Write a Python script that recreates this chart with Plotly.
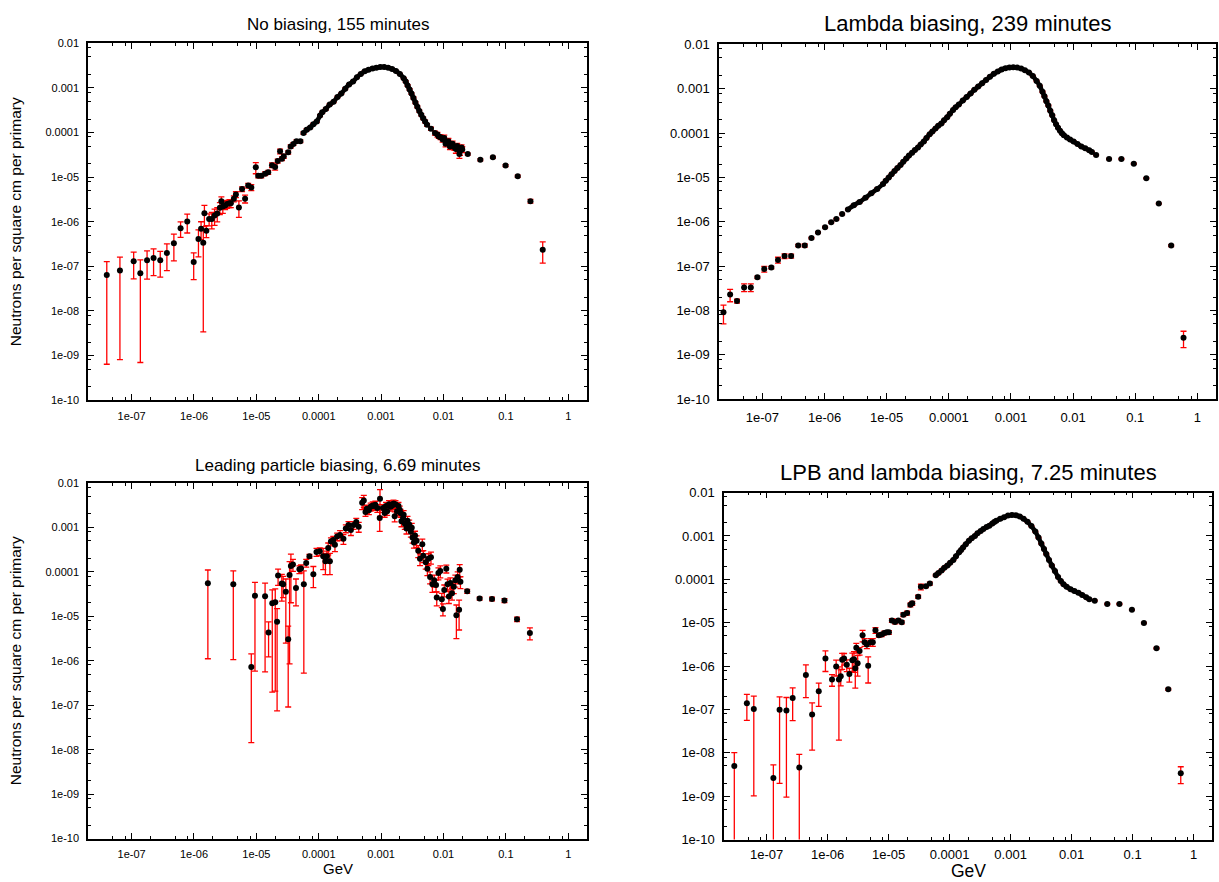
import plotly.graph_objects as go

W, H = 1219, 882

# ---------------- Panel 1: No biasing ----------------
p1_x = [4.0e-8, 6.5e-8, 1.08e-7, 1.38e-7, 1.77e-7, 2.25e-7, 2.88e-7, 3.68e-7, 4.76e-7, 6.1e-7,
        7.8e-7, 9.9e-7, 1.18e-6, 1.30e-6, 1.41e-6, 1.47e-6, 1.58e-6, 1.75e-6, 1.93e-6, 2.14e-6,
        2.36e-6, 2.6e-6, 2.75e-6, 2.9e-6, 3.16e-6, 3.4e-6, 3.7e-6, 3.9e-6, 4.36e-6, 4.7e-6,
        5.25e-6, 5.9e-6, 6.6e-6, 7.4e-6, 8.3e-6, 9.8e-6, 1.07e-5, 1.2e-5, 1.38e-5, 1.55e-5,
        1.78e-5, 2.0e-5, 2.2e-5, 2.4e-5, 2.57e-5, 2.75e-5, 3.24e-5, 3.55e-5, 3.93e-5, 4.4e-5,
        5.08e-5, 5.7e-5, 6.4e-5, 7.3e-5, 8.2e-5, 9.3e-5, 1.05e-4, 1.14e-4, 1.3e-4, 1.5e-4,
        1.73e-4, 2.0e-4, 2.3e-4, 2.66e-4, 3.07e-4, 3.55e-4, 4.1e-4, 4.73e-4, 5.46e-4, 6.3e-4,
        7.3e-4, 8.4e-4, 9.7e-4, 1.12e-3, 1.3e-3, 1.5e-3, 1.73e-3, 2.0e-3, 2.3e-3, 2.48e-3,
        2.66e-3, 2.86e-3, 3.07e-3, 3.3e-3, 3.55e-3, 3.81e-3, 4.1e-3, 4.4e-3, 4.73e-3, 5.08e-3,
        5.46e-3, 6.3e-3, 7.3e-3, 8.0e-3, 8.4e-3, 9.0e-3, 9.7e-3, 1.03e-2, 1.08e-2, 1.12e-2,
        1.2e-2, 1.27e-2, 1.3e-2, 1.4e-2, 1.5e-2, 1.58e-2, 1.66e-2, 1.73e-2, 1.8e-2, 1.84e-2,
        1.95e-2, 2.0e-2, 2.45e-2, 3.9e-2, 6.2e-2, 9.9e-2, 1.55e-1, 2.48e-1, 3.9e-1]
p1_y = [6.4e-8, 8.1e-8, 1.31e-7, 7.0e-8, 1.37e-7, 1.55e-7, 1.37e-7, 2.0e-7, 3.32e-7, 7.2e-7,
        1.02e-6, 1.26e-7, 4.1e-7, 7.0e-7, 3.4e-7, 1.55e-6, 6.3e-7, 1.16e-6, 1.16e-6, 1.38e-6,
        1.53e-6, 2.07e-6, 2.9e-6, 2.2e-6, 2.33e-6, 2.5e-6, 2.6e-6, 2.6e-6, 3.3e-6, 4.1e-6,
        2.1e-6, 5.4e-6, 3.3e-6, 6.5e-6, 5.9e-6, 1.66e-5, 1.07e-5, 1.07e-5, 1.2e-5, 1.29e-5,
        1.86e-5, 1.7e-5, 2.3e-5, 3.8e-5, 2.6e-5, 2.95e-5, 3.6e-5, 4.9e-5, 5.57e-5, 6.38e-5,
        6.38e-5, 9.75e-5, 1.16e-4, 1.3e-4, 1.54e-4, 1.77e-4, 2.4e-4, 2.84e-4, 3.36e-4, 4.27e-4,
        4.89e-4, 6.3e-4, 7.47e-4, 9.6e-4, 1.2e-3, 1.4e-3, 1.74e-3, 2.06e-3, 2.36e-3, 2.57e-3,
        2.75e-3, 2.85e-3, 2.95e-3, 2.95e-3, 2.85e-3, 2.66e-3, 2.4e-3, 2.06e-3, 1.66e-3, 1.4e-3,
        1.14e-3, 9.3e-4, 7.47e-4, 5.98e-4, 4.72e-4, 3.79e-4, 3.04e-4, 2.52e-4, 2.09e-4, 1.77e-4,
        1.49e-4, 1.22e-4, 9.75e-5, 9.0e-5, 8.2e-5, 7.9e-5, 6.95e-5, 7.6e-5, 5.6e-5, 6.17e-5,
        6.4e-5, 4.9e-5, 5.38e-5, 5.6e-5, 4.7e-5, 4.3e-5, 5.0e-5, 4.4e-5, 3.3e-5, 3.84e-5,
        4.6e-5, 4.18e-5, 3.3e-5, 2.45e-5, 2.78e-5, 1.82e-5, 1.05e-5, 2.9e-6, 2.37e-7]
p1_rel = [0.99, 0.99, 0.6, 0.99, 0.62, 0.6, 0.58, 0.6, 0.6, 0.38,
          0.45, 0.6, 0.6, 0.43, 0.99, 0.5, 0.3, 0.3, 0.4, 0.4,
          0.35, 0.3, 0.25, 0.3, 0.2, 0.2, 0.2, 0.2, 0.15, 0.15,
          0.4, 0.12, 0.2, 0.12, 0.15, 0.28, 0.1, 0.1, 0.1, 0.1,
          0.12, 0.15, 0.1, 0.12, 0.1, 0.1, 0.08, 0.08, 0.07, 0.07,
          0.07, 0.06, 0.06, 0.05, 0.05, 0.05, 0.05, 0.05, 0.05, 0.04,
          0.04, 0.04, 0.04, 0.04, 0.03, 0.03, 0.03, 0.03, 0.03, 0.03,
          0.03, 0.03, 0.03, 0.03, 0.03, 0.03, 0.03, 0.03, 0.03, 0.04,
          0.04, 0.04, 0.04, 0.05, 0.05, 0.05, 0.05, 0.06, 0.06, 0.07,
          0.07, 0.08, 0.1, 0.12, 0.1, 0.12, 0.12, 0.15, 0.15, 0.12,
          0.15, 0.15, 0.15, 0.15, 0.15, 0.2, 0.15, 0.15, 0.2, 0.2,
          0.15, 0.15, 0.05, 0.05, 0.05, 0.05, 0.06, 0.1, 0.5]

# ---------------- Panel 2: Lambda biasing ----------------
p2_low_x = [2.36e-8, 3.02e-8, 3.9e-8, 5.07e-8, 6.5e-8, 8.3e-8, 1.07e-7, 1.39e-7, 1.78e-7, 2.27e-7,
            2.9e-7, 3.77e-7, 4.8e-7, 6.15e-7, 7.85e-7]
p2_low_y = [9.1e-9, 2.28e-8, 1.63e-8, 3.32e-8, 3.32e-8, 5.6e-8, 8.6e-8, 9.3e-8, 1.38e-7, 1.69e-7,
            1.69e-7, 2.92e-7, 2.92e-7, 4.3e-7, 5.75e-7]
p2_low_rel = [0.45, 0.31, 0.1, 0.2, 0.2, 0.06, 0.15, 0.06, 0.15, 0.12,
              0.1, 0.06, 0.08, 0.04, 0.04]
p2_core_x = [1.02e-6, 1.28e-6, 1.55e-6, 1.92e-6, 2.38e-6, 2.96e-6, 3.67e-6, 4.56e-6, 5.66e-6, 7.03e-6,
             8.72e-6, 9.66e-6, 1.08e-5, 1.2e-5, 1.34e-5, 1.49e-5, 1.67e-5, 1.85e-5, 2.07e-5, 2.29e-5,
             2.57e-5, 2.85e-5, 3.19e-5, 3.53e-5, 3.96e-5, 4.38e-5, 4.92e-5, 5.45e-5, 6.11e-5, 6.76e-5,
             7.59e-5, 8.39e-5, 9.42e-5, 1.04e-4, 1.17e-4, 1.29e-4, 1.45e-4, 1.68e-4, 1.94e-4, 2.24e-4,
             2.58e-4, 2.98e-4, 3.44e-4, 3.98e-4, 4.59e-4, 5.31e-4, 6.14e-4, 7.08e-4, 8.18e-4, 9.46e-4,
             1.09e-3, 1.26e-3, 1.46e-3, 1.68e-3, 1.95e-3, 2.25e-3, 2.59e-3, 2.91e-3, 3.22e-3, 3.46e-3,
             3.72e-3, 4.0e-3, 4.3e-3, 4.62e-3, 4.96e-3, 5.33e-3, 5.73e-3, 6.16e-3, 6.62e-3, 7.12e-3,
             7.98e-3, 8.96e-3, 1.02e-2, 1.18e-2, 1.36e-2, 1.57e-2, 1.82e-2, 2.01e-2]
p2_core_y = [7.55e-7, 9.73e-7, 1.15e-6, 1.49e-6, 1.89e-6, 2.36e-6, 2.79e-6, 3.47e-6, 4.41e-6, 5.5e-6,
             7.1e-6, 8.41e-6, 9.97e-6, 1.18e-5, 1.4e-5, 1.63e-5, 1.9e-5, 2.25e-5, 2.67e-5, 3.11e-5,
             3.62e-5, 4.15e-5, 4.75e-5, 5.54e-5, 6.46e-5, 7.78e-5, 9.38e-5, 1.09e-4, 1.27e-4, 1.46e-4,
             1.64e-4, 1.95e-4, 2.27e-4, 2.73e-4, 3.29e-4, 3.84e-4, 4.4e-4, 5.39e-4, 6.5e-4, 7.83e-4,
             9.44e-4, 1.12e-3, 1.33e-3, 1.57e-3, 1.86e-3, 2.17e-3, 2.44e-3, 2.7e-3, 2.9e-3, 2.99e-3,
             3.05e-3, 2.99e-3, 2.84e-3, 2.61e-3, 2.32e-3, 1.93e-3, 1.49e-3, 1.16e-3, 8.53e-4, 6.72e-4,
             5.21e-4, 4.18e-4, 3.18e-4, 2.51e-4, 1.95e-4, 1.59e-4, 1.32e-4, 1.13e-4, 9.86e-5, 8.91e-5,
             7.91e-5, 7.14e-5, 6.46e-5, 5.64e-5, 5.0e-5, 4.52e-5, 4.08e-5, 3.75e-5]
p2_core_rel = [0.04, 0.04, 0.04, 0.04, 0.04, 0.04, 0.04, 0.04, 0.04, 0.04,
               0.04, 0.03, 0.03, 0.03, 0.03, 0.03, 0.03, 0.03, 0.03, 0.03,
               0.03, 0.03, 0.03, 0.03, 0.03, 0.03, 0.03, 0.03, 0.03, 0.03,
               0.03, 0.03, 0.03, 0.03, 0.03, 0.03, 0.03, 0.03, 0.03, 0.03,
               0.03, 0.03, 0.03, 0.03, 0.03, 0.03, 0.03, 0.03, 0.03, 0.03,
               0.03, 0.03, 0.03, 0.03, 0.03, 0.03, 0.03, 0.03, 0.03, 0.03,
               0.03, 0.03, 0.03, 0.03, 0.03, 0.03, 0.03, 0.03, 0.03, 0.03,
               0.03, 0.03, 0.03, 0.03, 0.03, 0.03, 0.03, 0.03]
p2_tail_x = [2.35e-2, 3.8e-2, 6.0e-2, 9.5e-2, 1.51e-1, 2.4e-1, 3.8e-1, 6.0e-1]
p2_tail_y = [3.2e-5, 2.6e-5, 2.6e-5, 2.03e-5, 9.6e-6, 2.57e-6, 2.92e-7, 2.43e-9]
p2_tail_rel = [0.03, 0.03, 0.03, 0.03, 0.03, 0.03, 0.05, 0.4]

# ---------------- Panel 3: Leading particle biasing ----------------
p3_x = [1.67e-6, 4.27e-6, 8.3e-6, 9.5e-6, 1.38e-5, 1.57e-5, 1.8e-5, 2.01e-5, 2.15e-5, 2.23e-5,
        2.56e-5, 2.69e-5, 2.97e-5, 3.24e-5, 3.41e-5, 3.58e-5, 3.86e-5, 4.32e-5, 4.9e-5, 5.2e-5,
        5.77e-5, 6.3e-5, 7.1e-5, 8.2e-5, 9.2e-5, 1.04e-4, 1.18e-4, 1.28e-4, 1.35e-4, 1.42e-4,
        1.51e-4, 1.57e-4, 1.71e-4, 1.82e-4, 1.97e-4, 2.2e-4, 2.49e-4, 2.72e-4, 3.0e-4, 3.28e-4,
        3.63e-4, 4.0e-4, 4.38e-4, 4.97e-4, 5.28e-4, 5.62e-4, 5.9e-4, 6.37e-4, 6.8e-4, 7.35e-4,
        7.69e-4, 8.1e-4, 8.7e-4, 9.5e-4, 9.6e-4, 1.07e-3, 1.14e-3, 1.2e-3, 1.25e-3, 1.34e-3,
        1.42e-3, 1.51e-3, 1.58e-3, 1.65e-3, 1.7e-3, 1.8e-3, 1.9e-3, 1.99e-3, 2.05e-3, 2.12e-3,
        2.25e-3, 2.3e-3, 2.4e-3, 2.55e-3, 2.65e-3, 2.82e-3, 3.0e-3, 3.1e-3, 3.19e-3, 3.36e-3,
        3.5e-3, 3.71e-3, 3.94e-3, 4.2e-3, 4.58e-3, 4.75e-3, 5.19e-3, 5.52e-3, 5.73e-3, 6.1e-3,
        6.3e-3, 6.65e-3, 7.1e-3, 7.6e-3, 7.8e-3, 8.3e-3, 8.9e-3, 9.4e-3, 9.8e-3, 1.03e-2,
        1.11e-2, 1.16e-2, 1.22e-2, 1.29e-2, 1.37e-2, 1.46e-2, 1.55e-2, 1.61e-2, 1.69e-2, 1.78e-2,
        1.82e-2, 1.87e-2, 2.4e-2, 3.8e-2, 6.0e-2, 9.5e-2, 1.51e-1, 2.43e-1]
p3_y = [5.53e-5, 5.26e-5, 7.2e-7, 2.9e-5, 2.8e-5, 4.33e-6, 1.96e-5, 2.07e-5, 7.46e-6, 8.2e-5,
        5.45e-5, 5.26e-5, 3.56e-5, 3.03e-6, 8.45e-5, 1.34e-4, 1.46e-4, 4.29e-5, 1.13e-4, 1.18e-4,
        5.26e-5, 1.58e-4, 2.23e-4, 8.75e-5, 2.78e-4, 2.87e-4, 2.23e-4, 1.73e-4, 2.23e-4, 3.4e-4,
        1.73e-4, 4.79e-4, 5.2e-4, 4.04e-4, 6.17e-4, 6.7e-4, 5.48e-4, 9.4e-4, 1.12e-3, 8.7e-4,
        1.12e-3, 1.32e-3, 1.03e-3, 3.55e-3, 3.99e-3, 2.2e-3, 2.6e-3, 2.4e-3, 2.9e-3, 3.1e-3,
        2.99e-3, 3.2e-3, 2.7e-3, 1.62e-3, 4.4e-3, 2.7e-3, 2.1e-3, 3.0e-3, 2.3e-3, 3.31e-3,
        2.9e-3, 3.1e-3, 3.4e-3, 1.77e-3, 3.3e-3, 2.28e-3, 3.0e-3, 2.48e-3, 2.1e-3, 1.37e-3,
        1.62e-3, 1.9e-3, 1.2e-3, 9.4e-4, 1.4e-3, 1.16e-3, 7.96e-4, 9.8e-4, 5.86e-4, 4.54e-4,
        6.5e-4, 4.94e-4, 2.97e-4, 1.95e-4, 4.17e-4, 2.3e-4, 1.64e-4, 1.17e-4, 1.95e-4, 7.6e-5,
        2.12e-4, 5.26e-5, 6.46e-5, 5.0e-5, 2.62e-5, 9.4e-5, 1.04e-4, 2.41e-5, 1.45e-5, 3.87e-5,
        1.17e-4, 5.26e-5, 2.76e-5, 5.6e-5, 3.27e-5, 4.6e-5, 6.46e-5, 1.05e-5, 7.6e-5, 1.4e-5,
        1.11e-4, 5.93e-5, 3.62e-5, 2.49e-5, 2.45e-5, 2.25e-5, 8.55e-6, 4.19e-6]
p3_rel = [0.98, 0.98, 0.98, 0.98, 0.98, 0.72, 0.99, 0.99, 0.99, 0.4,
          0.6, 0.5, 0.93, 0.97, 0.99, 0.85, 0.3, 0.6, 0.2, 0.2,
          0.99, 0.2, 0.1, 0.5, 0.2, 0.2, 0.5, 0.5, 0.3, 0.3,
          0.5, 0.2, 0.2, 0.3, 0.2, 0.25, 0.25, 0.2, 0.2, 0.25,
          0.2, 0.2, 0.25, 0.3, 0.3, 0.2, 0.2, 0.2, 0.2, 0.2,
          0.2, 0.2, 0.2, 0.5, 0.6, 0.2, 0.2, 0.2, 0.2, 0.2,
          0.2, 0.2, 0.2, 0.25, 0.2, 0.2, 0.2, 0.2, 0.2, 0.25,
          0.2, 0.25, 0.25, 0.25, 0.25, 0.25, 0.25, 0.25, 0.25, 0.25,
          0.25, 0.3, 0.3, 0.3, 0.3, 0.3, 0.3, 0.3, 0.3, 0.3,
          0.3, 0.35, 0.3, 0.3, 0.35, 0.3, 0.3, 0.35, 0.3, 0.3,
          0.2, 0.3, 0.3, 0.3, 0.3, 0.3, 0.3, 0.7, 0.3, 0.65,
          0.3, 0.3, 0.1, 0.08, 0.1, 0.1, 0.12, 0.3]

# ---------------- Panel 4: LPB and lambda biasing ----------------
p4_low_x = [2.95e-8, 4.74e-8, 6.16e-8, 1.29e-7, 1.63e-7, 2.11e-7, 2.67e-7, 3.43e-7, 4.4e-7, 5.57e-7,
            7.15e-7, 9.2e-7, 1.18e-6, 1.38e-6, 1.53e-6, 1.64e-6, 1.73e-6, 1.86e-6, 2.06e-6, 2.27e-6,
            2.54e-6, 2.7e-6, 2.84e-6, 2.95e-6, 3.1e-6, 3.34e-6, 3.74e-6, 4.03e-6, 4.4e-6, 4.62e-6,
            5.05e-6, 5.5e-6, 6.08e-6, 6.9e-6, 7.7e-6, 8.5e-6, 9.3e-6, 1.01e-5, 1.13e-5, 1.27e-5,
            1.44e-5, 1.64e-5]
p4_low_y = [5.0e-9, 1.4e-7, 1.02e-7, 2.63e-9, 9.86e-8, 9.5e-8, 1.85e-7, 4.6e-9, 6.25e-7, 7.7e-8,
            2.62e-7, 1.5e-6, 4.9e-7, 9.85e-7, 4.9e-7, 5.83e-7, 1.4e-6, 1.5e-6, 1.07e-6, 6.6e-7,
            1.37e-6, 1.44e-6, 8.87e-7, 2.66e-6, 1.17e-6, 2.23e-6, 5.15e-6, 3.57e-6, 3.16e-6, 1.02e-6,
            3.57e-6, 3.57e-6, 6.7e-6, 5.15e-6, 5.33e-6, 5.82e-6, 6.0e-6, 6.0e-6, 1.13e-5, 1.04e-5,
            1.13e-5, 1.02e-5]
p4_low_rel = [1.02, 0.6, 0.99, 1.0, 0.98, 0.99, 0.7, 1.0, 0.7, 0.85,
              0.55, 0.5, 0.3, 0.4, 0.96, 0.4, 0.4, 0.3, 0.3, 0.35,
              0.45, 0.5, 0.65, 0.25, 0.5, 0.2, 0.3, 0.2, 0.2, 0.6,
              0.2, 0.2, 0.15, 0.1, 0.1, 0.1, 0.1, 0.1, 0.1, 0.1,
              0.08, 0.08]
p4_core_x = [1.74e-5, 2.01e-5, 2.27e-5, 2.44e-5, 3.05e-5, 3.38e-5, 4.09e-5, 4.74e-5, 5.92e-5, 6.56e-5,
             7.38e-5, 8.18e-5, 9.2e-5, 1.02e-4, 1.15e-4, 1.27e-4, 1.43e-4, 1.54e-4, 1.66e-4, 1.84e-4,
             2.07e-4, 2.3e-4, 2.59e-4, 2.86e-4, 3.23e-4, 3.57e-4, 4.03e-4, 4.47e-4, 5.02e-4, 5.4e-4,
             5.82e-4, 6.75e-4, 7.81e-4, 9.06e-4, 1.05e-3, 1.22e-3, 1.41e-3, 1.63e-3, 1.89e-3, 2.19e-3,
             2.54e-3, 2.86e-3, 3.18e-3, 3.52e-3, 3.84e-3, 4.26e-3, 4.73e-3, 5.32e-3, 5.99e-3, 6.64e-3,
             7.36e-3, 8.28e-3, 9.6e-3, 1.11e-2, 1.29e-2, 1.49e-2, 1.73e-2, 1.95e-2]
p4_core_y = [1.53e-5, 1.67e-5, 2.58e-5, 2.81e-5, 3.98e-5, 6.71e-5, 6.97e-5, 8.0e-5, 1.24e-4, 1.4e-4,
             1.61e-4, 1.85e-4, 2.09e-4, 2.4e-4, 2.81e-4, 3.4e-4, 4.19e-4, 4.73e-4, 5.44e-4, 6.48e-4,
             7.71e-4, 8.87e-4, 1.0e-3, 1.15e-3, 1.3e-3, 1.44e-3, 1.6e-3, 1.72e-3, 1.95e-3, 2.1e-3,
             2.25e-3, 2.48e-3, 2.7e-3, 2.95e-3, 3.05e-3, 3.0e-3, 2.8e-3, 2.48e-3, 2.12e-3, 1.69e-3,
             1.26e-3, 9.18e-4, 6.71e-4, 4.99e-4, 3.84e-4, 2.81e-4, 2.09e-4, 1.55e-4, 1.13e-4, 9.2e-5,
             7.73e-5, 6.71e-5, 5.94e-5, 5.36e-5, 4.91e-5, 4.35e-5, 3.85e-5, 3.47e-5]
p4_core_rel = [0.1, 0.1, 0.1, 0.1, 0.08, 0.15, 0.08, 0.08, 0.05, 0.05,
               0.05, 0.04, 0.04, 0.04, 0.03, 0.03, 0.03, 0.03, 0.03, 0.03,
               0.03, 0.03, 0.03, 0.03, 0.03, 0.03, 0.03, 0.03, 0.03, 0.03,
               0.03, 0.03, 0.03, 0.03, 0.03, 0.03, 0.03, 0.03, 0.03, 0.03,
               0.03, 0.03, 0.03, 0.03, 0.03, 0.03, 0.03, 0.03, 0.03, 0.03,
               0.03, 0.03, 0.03, 0.03, 0.03, 0.03, 0.03, 0.03]
p4_tail_x = [2.39e-2, 3.84e-2, 6.07e-2, 9.73e-2, 1.53e-1, 2.46e-1, 3.84e-1, 6.15e-1]
p4_tail_y = [3.23e-5, 2.71e-5, 2.71e-5, 1.98e-5, 9.88e-6, 2.58e-6, 2.92e-7, 3.37e-9]
p4_tail_rel = [0.03, 0.03, 0.03, 0.03, 0.03, 0.04, 0.05, 0.42]

# ---------------- Text ----------------
titles = ["No biasing, 155 minutes", "Lambda biasing, 239 minutes",
          "Leading particle biasing, 6.69 minutes", "LPB and lambda biasing, 7.25 minutes"]
y_title = "Neutrons per square cm per primary"
x_title = "GeV"
x_tickvals = [1e-7, 1e-6, 1e-5, 1e-4, 1e-3, 1e-2, 1e-1, 1]
x_ticktext = ["1e-07", "1e-06", "1e-05", "0.0001", "0.001", "0.01", "0.1", "1"]
y_tickvals = [1e-10, 1e-9, 1e-8, 1e-7, 1e-6, 1e-5, 1e-4, 1e-3, 1e-2]
y_ticktext = ["1e-10", "1e-09", "1e-08", "1e-07", "1e-06", "1e-05", "0.0001", "0.001", "0.01"]

FONT = "Liberation Sans, Arial, Helvetica, sans-serif"

# densely sampled stretch of each spectrum (drawn as a continuous band, as in the reference)
dense = [
    (p1_x[51:91], p1_y[51:91]),
    (p2_core_x[4:], p2_core_y[4:]),
    None,
    (p4_core_x[8:], p4_core_y[8:]),
]

panels = [
    dict(x=p1_x, y=p1_y, rel=p1_rel, px=(88, 587), py=(37, 400), tick=11, tsize=17, ty=18, xstand=5),
    dict(x=p2_low_x + p2_core_x + p2_tail_x, y=p2_low_y + p2_core_y + p2_tail_y,
         rel=p2_low_rel + p2_core_rel + p2_tail_rel, px=(719, 1216), py=(38, 399), tick=13, tsize=22, ty=17,
         xstand=5),
    dict(x=p3_x, y=p3_y, rel=p3_rel, px=(88, 587), py=(484, 846), tick=11, tsize=17, ty=466, xstand=4),
    dict(x=p4_low_x + p4_core_x + p4_tail_x, y=p4_low_y + p4_core_y + p4_tail_y,
         rel=p4_low_rel + p4_core_rel + p4_tail_rel, px=(724, 1212), py=(494, 847), tick=13, tsize=22, ty=474,
         xstand=2),
]

minor_x = [m * 10.0 ** e for e in range(-8, 1) for m in (2, 5, 8)]
minor_y = [m * 10.0 ** e for e in range(-10, -2) for m in (2, 5, 8)]

fig = go.Figure()
layout = dict(width=W, height=H, margin=dict(l=0, r=0, t=0, b=0),
              paper_bgcolor="white", plot_bgcolor="white", showlegend=False,
              font=dict(family=FONT, color="black"))
annotations = []

for i, p in enumerate(panels):
    n = "" if i == 0 else str(i + 1)
    err = [yy * r for yy, r in zip(p["y"], p["rel"])]
    fig.add_trace(go.Scatter(
        x=p["x"], y=p["y"], mode="markers", xaxis="x" + n, yaxis="y" + n,
        marker=dict(color="black", size=6, symbol="circle", line=dict(width=0)),
        error_y=dict(type="data", array=err, symmetric=True, color="#ff0000",
                     thickness=1.3, width=3),
        hoverinfo="skip"))
    if dense[i] is not None:
        fig.add_trace(go.Scatter(
            x=dense[i][0], y=dense[i][1], mode="lines", xaxis="x" + n, yaxis="y" + n,
            line=dict(color="black", width=4.5, shape="spline", smoothing=0.6),
            hoverinfo="skip"))
    x0, x1 = p["px"]
    y0, y1 = p["py"]
    common = dict(type="log", showgrid=False, zeroline=False, showline=True,
                  linecolor="black", linewidth=1.5, mirror="ticks",
                  ticks="inside", ticklen=6, tickwidth=1, tickcolor="black",
                  tickfont=dict(family=FONT, size=p["tick"], color="black"),
                  tickmode="array")
    layout["xaxis" + n] = dict(common, domain=[x0 / W, x1 / W], anchor="y" + n,
                               range=[-7.699, 0.301], tickvals=x_tickvals, ticktext=x_ticktext,
                               ticklabelstandoff=p["xstand"],
                               minor=dict(tickmode="array", tickvals=minor_x, ticks="inside",
                                          ticklen=3, tickcolor="black", tickwidth=1, showgrid=False))
    layout["yaxis" + n] = dict(common, domain=[1 - y1 / H, 1 - y0 / H], anchor="x" + n,
                               range=[-10, -2], tickvals=y_tickvals, ticktext=y_ticktext,
                               ticklabelstandoff=5,
                               minor=dict(tickmode="array", tickvals=minor_y, ticks="inside",
                                          ticklen=3, tickcolor="black", tickwidth=1, showgrid=False))
    annotations.append(dict(text=titles[i], xref="paper", yref="paper",
                            x=(x0 + x1) / 2 / W, y=1 - p["ty"] / H, xanchor="center", yanchor="middle",
                            showarrow=False, font=dict(family=FONT, size=p["tsize"], color="black")))

annotations.append(dict(text=y_title, xref="paper", yref="paper", x=15.5 / W, y=1 - 218.5 / H,
                        textangle=-90, xanchor="center", yanchor="middle", showarrow=False,
                        font=dict(family=FONT, size=15.5, color="black")))
annotations.append(dict(text=y_title, xref="paper", yref="paper", x=15.5 / W, y=1 - 665 / H,
                        textangle=-90, xanchor="center", yanchor="middle", showarrow=False,
                        font=dict(family=FONT, size=15.5, color="black")))
annotations.append(dict(text=x_title, xref="paper", yref="paper", x=337.5 / W, y=1 - 876 / H,
                        xanchor="center", yanchor="middle", showarrow=False, borderpad=0,
                        font=dict(family=FONT, size=15, color="black")))
annotations.append(dict(text=x_title, xref="paper", yref="paper", x=968 / W, y=-8 / H,
                        xanchor="center", yanchor="bottom", showarrow=False, borderpad=0,
                        font=dict(family=FONT, size=17.5, color="black")))
layout["annotations"] = annotations
fig.update_layout(**layout)

fig.write_html("out.html", config={"displayModeBar": False})
